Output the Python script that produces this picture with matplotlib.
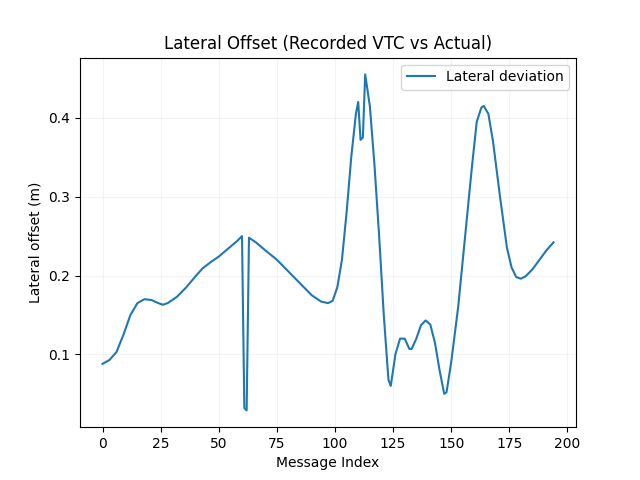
import matplotlib
matplotlib.use("Agg")
import matplotlib.pyplot as plt

msg_index = [0,3,6,9,12,15,18,21,24,26,28,32,36,40,43,47,50,54,58,60,61,62,63,66,70,75,80,85,90,94,97,99,101,103,105,107,109,110,111,112,113,115,117,119,121,123,124,126,128,130,132,133,135,137,139,141,143,145,147,148,150,153,156,159,161,163,164,166,168,171,174,176,178,180,182,185,188,191,194]
lateral = [0.088,0.093,0.103,0.125,0.150,0.165,0.170,0.169,0.165,0.163,0.165,0.173,0.185,0.199,0.209,0.218,0.224,0.234,0.244,0.250,0.032,0.029,0.248,0.242,0.232,0.220,0.205,0.190,0.175,0.167,0.165,0.168,0.185,0.220,0.280,0.350,0.405,0.420,0.372,0.375,0.455,0.415,0.340,0.250,0.150,0.068,0.060,0.100,0.120,0.120,0.107,0.107,0.120,0.137,0.143,0.138,0.115,0.080,0.050,0.052,0.090,0.160,0.250,0.340,0.395,0.413,0.415,0.405,0.370,0.300,0.235,0.210,0.198,0.196,0.199,0.208,0.220,0.232,0.242]

fig, ax = plt.subplots(figsize=(6.4, 4.8), dpi=100)
ax.plot(msg_index, lateral, color="#1f77b4", label="Lateral deviation")
ax.set_title("Lateral Offset (Recorded VTC vs Actual)")
ax.set_xlabel("Message Index")
ax.set_ylabel("Lateral offset (m)")
ax.grid(True, alpha=0.15)
ax.legend(loc="upper right")
fig.savefig("out.png")
